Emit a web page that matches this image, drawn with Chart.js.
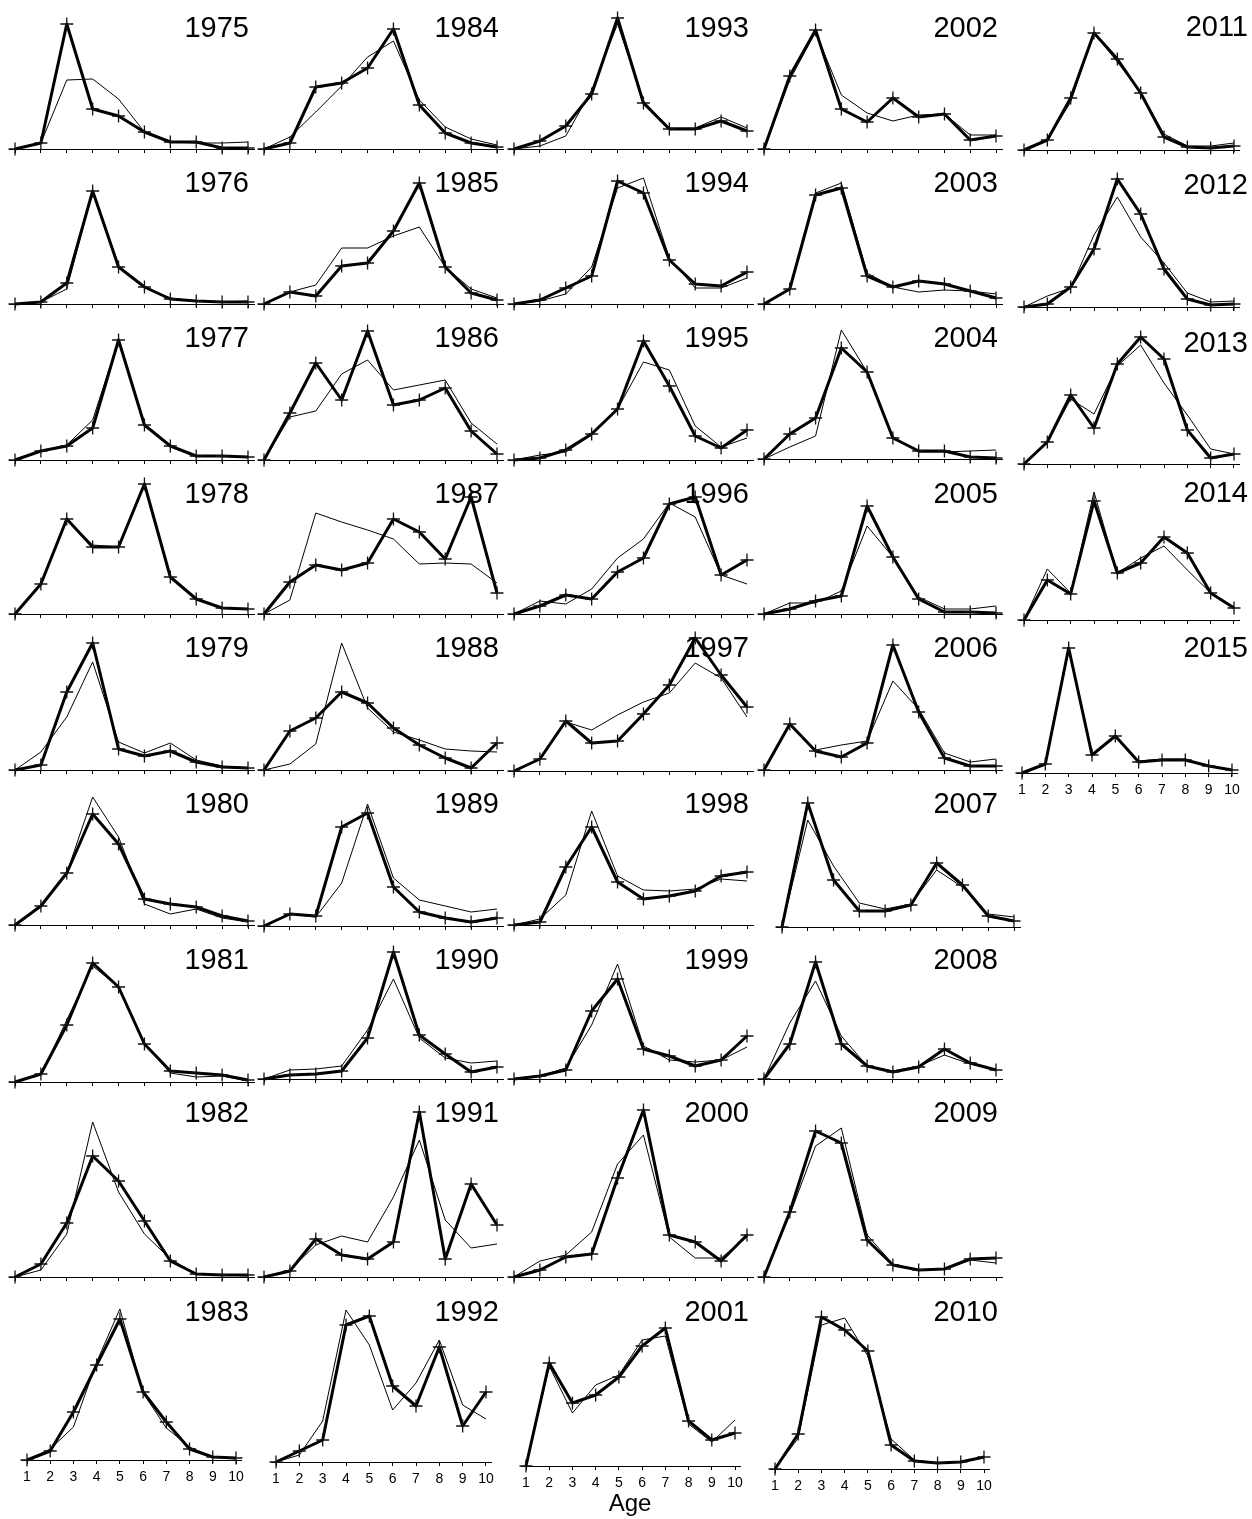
<!DOCTYPE html>
<html>
<head>
<meta charset="utf-8">
<script src="https://cdn.jsdelivr.net/npm/chart.js@4.4.1/dist/chart.umd.min.js"></script>
<style>
  html, body { margin: 0; padding: 0; background: #fff; }
  #page { position: relative; width: 1252px; height: 1519px; overflow: hidden;
          font-family: 'Liberation Sans', Arial, sans-serif; }
  #page canvas { position: absolute; }
  .year { position: absolute; width: 120px; text-align: right; font-size: 29px;
          line-height: 29px; color: #000; }
  .xtitle { position: absolute; width: 100px; text-align: center; font-size: 24px;
            line-height: 24px; color: #000; }
</style>
</head>
<body>
<div id="page"></div>
<script>
// age composition by year (relative units): thick line = observed, thin line = predicted
const years = [1975, 1976, 1977, 1978, 1979, 1980, 1981, 1982, 1983,
               1984, 1985, 1986, 1987, 1988, 1989, 1990, 1991, 1992,
               1993, 1994, 1995, 1996, 1997, 1998, 1999, 2000, 2001,
               2002, 2003, 2004, 2005, 2006, 2007, 2008, 2009, 2010,
               2011, 2012, 2013, 2014, 2015];
const ages = [1, 2, 3, 4, 5, 6, 7, 8, 9, 10];

const observed = [
  [0, 6, 125, 40, 33, 17, 7, 7, 1, 1],
  [0, 2, 21, 113, 37, 17, 5, 3, 2, 2],
  [0, 9, 14, 32, 120, 35, 14, 4, 4, 3],
  [0, 30, 95, 67, 67, 130, 37, 15, 6, 5],
  [0, 5, 78, 127, 21, 14, 19, 8, 3, 2],
  [0, 19, 52, 111, 81, 26, 21, 18, 9, 4],
  [0, 8, 57, 119, 95, 38, 11, 9, 7, 2],
  [0, 13, 54, 121, 96, 56, 16, 3, 2, 2],
  [0, 9, 48, 95, 141, 68, 38, 11, 3, 2],
  [0, 6, 62, 66, 81, 120, 44, 16, 6, 2],
  [0, 12, 8, 38, 41, 73, 121, 37, 11, 4],
  [0, 47, 97, 60, 129, 55, 60, 72, 29, 6],
  [0, 32, 49, 44, 51, 95, 82, 55, 117, 21],
  [0, 39, 52, 78, 67, 42, 25, 12, 2, 27],
  [0, 12, 10, 99, 113, 39, 14, 8, 4, 8],
  [0, 4, 5, 8, 41, 127, 44, 25, 7, 12],
  [0, 6, 38, 22, 18, 35, 165, 18, 93, 52],
  [0, 11, 22, 137, 146, 76, 56, 115, 36, 70],
  [0, 8, 23, 55, 131, 46, 20, 20, 28, 18],
  [0, 4, 16, 28, 123, 111, 44, 20, 18, 32],
  [0, 2, 10, 26, 51, 119, 74, 24, 12, 30],
  [0, 8, 19, 15, 42, 56, 110, 117, 39, 54],
  [0, 12, 50, 28, 30, 57, 86, 133, 96, 64],
  [0, 3, 58, 98, 43, 26, 29, 34, 49, 53],
  [0, 3, 9, 68, 100, 30, 23, 13, 19, 43],
  [0, 7, 20, 23, 99, 167, 42, 35, 16, 42],
  [0, 103, 63, 71, 89, 120, 138, 45, 26, 33],
  [0, 73, 119, 40, 27, 51, 32, 35, 9, 13],
  [0, 15, 109, 116, 28, 17, 23, 20, 13, 6],
  [0, 25, 41, 111, 87, 21, 8, 8, 2, 1],
  [0, 5, 13, 18, 108, 57, 15, 2, 2, 1],
  [0, 46, 19, 13, 27, 125, 58, 12, 4, 4],
  [0, 124, 47, 16, 16, 22, 64, 42, 11, 6],
  [0, 35, 117, 35, 13, 7, 12, 30, 16, 9],
  [0, 65, 146, 134, 37, 12, 7, 8, 18, 19],
  [0, 35, 152, 139, 118, 24, 8, 6, 7, 12],
  [0, 10, 52, 117, 91, 57, 13, 3, 2, 4],
  [0, 3, 20, 58, 128, 93, 38, 8, 2, 3],
  [0, 22, 69, 36, 100, 127, 105, 34, 6, 10],
  [0, 40, 26, 119, 47, 57, 83, 67, 27, 12],
  [0, 9, 125, 18, 37, 11, 13, 13, 7, 3]
];

const predicted = [
  [0, 6, 69, 70, 50, 17, 7, 6, 6, 7],
  [0, 2, 15, 113, 37, 17, 6, 3, 2, 3],
  [0, 9, 15, 40, 120, 35, 14, 4, 4, 3],
  [0, 30, 95, 69, 67, 130, 37, 15, 6, 5],
  [0, 18, 53, 108, 28, 17, 27, 10, 4, 2],
  [0, 19, 52, 128, 88, 21, 11, 16, 7, 3],
  [0, 7, 62, 116, 95, 38, 9, 5, 6, 1],
  [0, 7, 43, 155, 85, 43, 18, 3, 2, 1],
  [0, 11, 33, 98, 151, 67, 32, 13, 3, 1],
  [0, 12, 37, 63, 92, 108, 49, 22, 10, 4],
  [0, 12, 19, 56, 56, 68, 77, 37, 15, 6],
  [0, 43, 49, 86, 100, 70, 75, 80, 37, 16],
  [0, 14, 101, 92, 84, 75, 50, 51, 50, 31],
  [0, 6, 26, 127, 62, 38, 30, 21, 19, 18],
  [0, 12, 9, 43, 122, 48, 26, 20, 14, 17],
  [0, 9, 10, 13, 49, 100, 41, 21, 16, 18],
  [0, 7, 32, 41, 35, 80, 137, 57, 29, 33],
  [0, 7, 41, 152, 117, 52, 79, 122, 57, 43],
  [0, 3, 13, 59, 125, 48, 21, 21, 32, 21],
  [0, 3, 10, 37, 116, 126, 46, 16, 16, 26],
  [0, 5, 8, 25, 51, 98, 90, 34, 13, 22],
  [0, 13, 10, 25, 56, 75, 111, 97, 39, 30],
  [0, 12, 49, 41, 56, 69, 78, 108, 93, 54],
  [0, 6, 30, 114, 49, 35, 34, 36, 46, 44],
  [0, 3, 11, 54, 115, 33, 19, 17, 19, 32],
  [0, 16, 22, 45, 113, 142, 40, 19, 19, 40],
  [0, 100, 53, 81, 91, 126, 130, 42, 24, 46],
  [0, 69, 117, 54, 36, 28, 34, 35, 14, 14],
  [0, 15, 111, 121, 31, 17, 12, 14, 13, 10],
  [0, 12, 23, 129, 87, 22, 7, 7, 8, 9],
  [0, 11, 11, 23, 88, 57, 17, 5, 5, 8],
  [0, 46, 20, 25, 29, 89, 61, 17, 8, 11],
  [0, 107, 61, 24, 18, 23, 57, 40, 13, 10],
  [0, 56, 98, 43, 13, 8, 13, 24, 15, 9],
  [0, 62, 131, 149, 42, 13, 7, 8, 17, 14],
  [0, 31, 144, 151, 113, 30, 9, 6, 7, 11],
  [0, 10, 48, 117, 88, 57, 16, 4, 4, 7],
  [0, 11, 19, 72, 110, 70, 44, 14, 5, 6],
  [0, 22, 65, 50, 98, 119, 81, 49, 15, 10],
  [0, 51, 27, 128, 47, 62, 74, 50, 27, 13],
  [0, 8, 124, 19, 37, 12, 14, 14, 7, 3]
];

// panels with age tick labels underneath
const labelledYears = [1983, 1992, 2001, 2010, 2015];

// placement of each panel: [age-1 x, age-10 x, zero line y, year label right, year label centre y]
const panels = [
  [15, 248, 149, 249, 28], [15, 248, 304, 249, 183], [15, 248, 460, 249, 338],
  [15, 248, 614, 249, 494], [15, 248, 770, 249, 648], [15, 248, 925, 249, 804],
  [15, 248, 1082, 249, 960], [15, 248, 1277, 249, 1113], [27, 236, 1460, 249, 1312],
  [264, 497, 149, 499, 28], [264, 497, 304, 499, 183], [264, 497, 460, 499, 338],
  [264, 497, 614, 499, 494], [264, 497, 770, 499, 648], [264, 497, 926, 499, 804],
  [264, 497, 1079, 499, 960], [264, 497, 1277, 499, 1113], [276, 486, 1462, 499, 1312],
  [514, 747, 149, 749, 28], [514, 747, 304, 749, 183], [514, 747, 460, 749, 338],
  [514, 747, 614, 749, 494], [514, 747, 771, 749, 648], [514, 747, 925, 749, 804],
  [514, 747, 1079, 749, 960], [514, 747, 1277, 749, 1113], [526, 735, 1466, 749, 1312],
  [764, 996, 149, 998, 28], [764, 996, 304, 998, 183], [764, 996, 459, 998, 338],
  [764, 996, 614, 998, 494], [764, 996, 770, 998, 648], [782, 1014, 927, 998, 804],
  [764, 996, 1079, 998, 960], [764, 996, 1277, 998, 1113], [775, 984, 1469, 998, 1312],
  [1024, 1234, 150, 1248, 27], [1024, 1234, 307, 1248, 185], [1024, 1234, 464, 1248, 343],
  [1024, 1234, 620, 1248, 493], [1022, 1232, 773, 1248, 648]
];

const H = 175;       // plot height, in the same relative units as the data
const PAD = 14;      // side padding of each canvas
const TOP = 10;
const AXIS_H = 28;
const EDGE = 0.2;    // zero line runs a little past ages 1 and 10

Chart.defaults.font.family = "'Liberation Sans', Arial, sans-serif";
const page = document.getElementById('page');

years.forEach(function (year, i) {
    const p = panels[i];
    const unit = (p[1] - p[0]) / 9;
    const areaLeft = Math.floor(p[0] - EDGE * unit);
    const areaRight = Math.ceil(p[1] + EDGE * unit);
    const xMin = 1 - (p[0] - areaLeft) / unit;
    const xMax = xMin + (areaRight - areaLeft) / unit;

    const canvas = document.createElement('canvas');
    canvas.width = areaRight - areaLeft + 2 * PAD;
    canvas.height = TOP + H + AXIS_H;
    canvas.style.left = (areaLeft - PAD) + 'px';
    canvas.style.top = (p[2] - H - TOP) + 'px';
    page.appendChild(canvas);

    const showTicks = labelledYears.indexOf(year) >= 0;

    new Chart(canvas, {
        type: 'line',
        data: {
            datasets: [{
                label: 'Observed',
                data: ages.map((a, k) => ({ x: a, y: observed[i][k] })),
                borderColor: '#000',
                borderWidth: 3,
                borderJoinStyle: 'round',
                pointStyle: 'cross',
                pointRadius: 6.5,
                pointBorderWidth: 1.3,
                pointBorderColor: '#111',
                tension: 0,
                clip: false
            }, {
                label: 'Predicted',
                data: ages.map((a, k) => ({ x: a, y: predicted[i][k] })),
                borderColor: '#000',
                borderWidth: 1,
                borderJoinStyle: 'round',
                pointRadius: 0,
                tension: 0,
                clip: false
            }]
        },
        options: {
            responsive: false,
            animation: false,
            events: [],
            layout: { padding: { left: PAD, right: PAD, top: TOP, bottom: 0 } },
            plugins: { legend: { display: false }, tooltip: { enabled: false } },
            scales: {
                x: {
                    type: 'linear',
                    min: xMin,
                    max: xMax,
                    afterBuildTicks: function (scale) {
                        scale.ticks = ages.map(v => ({ value: v }));
                    },
                    afterFit: function (scale) {
                        scale.height = AXIS_H;
                    },
                    grid: { drawOnChartArea: false, drawTicks: true, tickLength: 4,
                            tickColor: '#000', tickWidth: 1 },
                    border: { display: true, color: '#000', width: 1 },
                    ticks: {
                        display: showTicks,
                        autoSkip: false,
                        maxRotation: 0,
                        padding: 5,
                        color: '#000',
                        font: { size: 14 }
                    }
                },
                y: { display: false, min: 0, max: H }
            }
        }
    });

    const label = document.createElement('div');
    label.className = 'year';
    label.textContent = year;
    label.style.left = (p[3] - 120) + 'px';
    label.style.top = (p[4] - 15) + 'px';
    page.appendChild(label);
});

const xtitle = document.createElement('div');
xtitle.className = 'xtitle';
xtitle.textContent = 'Age';
xtitle.style.left = '580px';
xtitle.style.top = '1491px';
page.appendChild(xtitle);
</script>
</body>
</html>
